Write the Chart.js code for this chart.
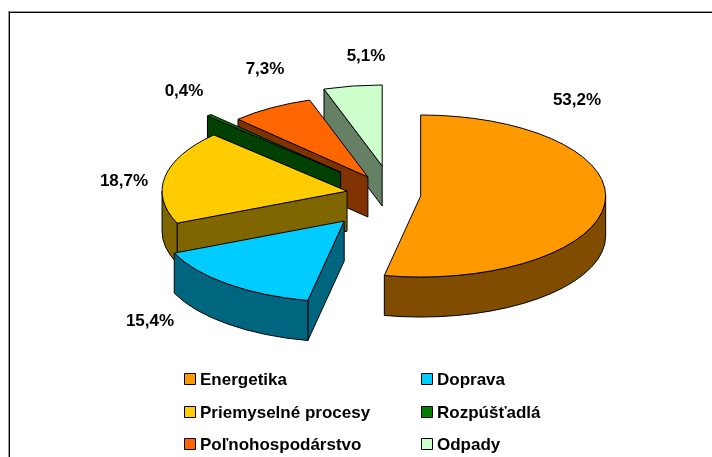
<!DOCTYPE html>
<html>
<head>
<meta charset="utf-8">
<style>html,body{margin:0;padding:0;background:#fff}canvas{display:block}</style>
<script src="https://cdn.jsdelivr.net/npm/chart.js@4"></script>
</head>
<body>
<canvas id="c" width="712" height="457"></canvas>
<script>
const categories = ['Energetika','Doprava','Priemyselné procesy','Rozpúšťadlá','Poľnohospodárstvo','Odpady'];
const shares = [53.2,15.4,18.7,0.4,7.3,5.1];
const valueLabels = ['53,2%','15,4%','18,7%','0,4%','7,3%','5,1%'];
const topColors = ['#FF9900','#00CCFF','#FFCC00','#008000','#FF6600','#CCFFCC'];
const wallColors = ['#804D00','#006680','#806600','#004000','#803300','#668066'];

// view of the tilted, exploded pie
const view = {cx:392.8, cy:194.8, tilt:0.438, depth:40, radius:185};
const explode = [28,77.2,46.5,73.4,47.7,66.6];
const labelSpots = [[577,100],[150,321],[124,181],[184,91],[265,69],[366,56]];
const legendSpots = [[185,379],[422,379],[185,412],[422,412],[185,444],[422,444]];
const FONT = 'bold 17px "Liberation Sans", Arial, sans-serif';

function place(ctx, arc, i, drop){
  const mid = (arc.startAngle + arc.endAngle)/2;
  ctx.translate(view.cx, view.cy + drop);
  ctx.scale(1, view.tilt);
  ctx.translate(Math.cos(mid)*explode[i], Math.sin(mid)*explode[i]);
}
function edgeStyle(ctx){ ctx.strokeStyle='#000'; ctx.lineWidth=1; ctx.lineJoin='round'; }

function wall(ctx, arc, i, a){ // flat cut face from the apex to the rim at angle a
  const r = arc.outerRadius;
  ctx.save(); place(ctx, arc, i, 0);
  const m = ctx.getTransform(); ctx.restore();
  const p0 = m.transformPoint({x:0,y:0}), p1 = m.transformPoint({x:Math.cos(a)*r,y:Math.sin(a)*r});
  ctx.beginPath();
  ctx.moveTo(p0.x,p0.y); ctx.lineTo(p1.x,p1.y);
  ctx.lineTo(p1.x,p1.y+view.depth); ctx.lineTo(p0.x,p0.y+view.depth); ctx.closePath();
  ctx.fillStyle = wallColors[i]; ctx.fill(); edgeStyle(ctx); ctx.stroke();
}
function rim(ctx, arc, i){ // curved outer wall, only the part that faces the viewer
  const a0 = Math.max(arc.startAngle, 0), a1 = Math.min(arc.endAngle, Math.PI);
  if (a1 <= a0) return;
  const r = arc.outerRadius;
  ctx.save();
  ctx.beginPath();
  ctx.save(); place(ctx, arc, i, 0); ctx.arc(0,0,r,a0,a1,false); ctx.restore();
  ctx.save(); place(ctx, arc, i, view.depth); ctx.arc(0,0,r,a1,a0,true); ctx.restore();
  ctx.closePath();
  ctx.fillStyle = wallColors[i]; ctx.fill(); edgeStyle(ctx); ctx.stroke();
  ctx.restore();
}
function face(ctx, arc, i){ // top face: the library's arc element under the tilt transform
  ctx.save();
  place(ctx, arc, i, 0);
  ctx.translate(-arc.x, -arc.y);
  arc.draw(ctx);
  ctx.restore();
  ctx.save();
  ctx.beginPath();
  ctx.save(); place(ctx, arc, i, 0);
  ctx.moveTo(0,0); ctx.arc(0,0,arc.outerRadius,arc.startAngle,arc.endAngle,false); ctx.closePath();
  ctx.restore();
  edgeStyle(ctx); ctx.stroke();
  ctx.restore();
}

const pie3d = {
  id:'pie3d',
  beforeDraw(chart){
    const ctx = chart.ctx;
    ctx.save();
    ctx.fillStyle='#fff'; ctx.fillRect(0,0,chart.width,chart.height);
    ctx.fillStyle='#000'; ctx.fillRect(9,12,chart.width-9,1); ctx.fillRect(9,12,1,chart.height-12);
    ctx.fillStyle='#999'; ctx.fillRect(8,11,chart.width-8,1); ctx.fillRect(8,11,1,chart.height-11);
    ctx.restore();
  },
  beforeDatasetsDraw(chart){
    const ctx = chart.ctx, arcs = chart.getDatasetMeta(0).data;
    for (let i = arcs.length-1; i >= 0; i--){
      const arc = arcs[i];
      if (Math.cos(arc.endAngle) > 0) wall(ctx, arc, i, arc.endAngle);
      if (Math.cos(arc.startAngle) < 0) wall(ctx, arc, i, arc.startAngle);
      rim(ctx, arc, i);
      face(ctx, arc, i);
    }
    return false;
  },
  afterDraw(chart){
    const ctx = chart.ctx;
    ctx.save();
    ctx.font = FONT; ctx.fillStyle='#000'; ctx.textBaseline='middle';
    ctx.textAlign='center';
    valueLabels.forEach((t,i)=>ctx.fillText(t,labelSpots[i][0],labelSpots[i][1]));
    ctx.textAlign='left';
    categories.forEach((t,i)=>{
      const [x,y]=legendSpots[i];
      ctx.fillStyle=topColors[i]; ctx.fillRect(x,y-5,10,10);
      ctx.strokeStyle='#000'; ctx.lineWidth=1; ctx.strokeRect(x-.5,y-5.5,11,11);
      ctx.fillStyle='#000'; ctx.fillText(t,x+15,y+1);
    });
    ctx.restore();
  }
};

new Chart(document.getElementById('c'),{
  type:'pie',
  data:{labels:categories,datasets:[{data:shares,backgroundColor:topColors,borderWidth:0,radius:view.radius}]},
  options:{
    responsive:false,animation:false,
    plugins:{legend:{display:false},tooltip:{enabled:false}},
    layout:{padding:0}
  },
  plugins:[pie3d]
});
</script>
</body>
</html>
